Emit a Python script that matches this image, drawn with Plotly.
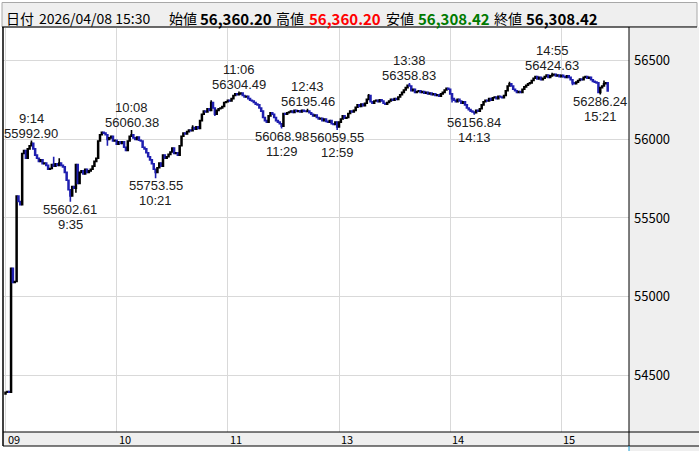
import plotly.graph_objects as go

# ---------------- data ----------------
first_open = 54380.0
closes = [
    54390, 54395, 54390, 55180, 55090, 55095, 55640, 55605, 55585, 55910,
    55930, 55880, 55940, 55960, 55975, 55940, 55900, 55880, 55860, 55870,
    55845, 55850, 55835, 55810, 55815, 55840, 55830, 55845, 55835, 55850,
    55835, 55825, 55790, 55740, 55680, 55640, 55700, 55690, 55840, 55720,
    55790, 55800, 55780, 55810, 55790, 55800, 55810, 55830, 55860, 55880,
    55990, 56030, 56045, 56040, 56030, 56000, 56010, 56020, 55990, 55995,
    55970, 55985, 55975, 55985, 55950, 55930, 55990, 56020, 56030, 56010,
    56000, 56015, 55995, 55990, 55950, 55940, 55915, 55890, 55870, 55845,
    55810, 55790, 55820, 55850, 55830, 55900, 55880, 55890, 55905, 55920,
    55945, 55910, 55915, 55900, 55960, 56020, 56040, 56035, 56050, 56060,
    56055, 56075, 56065, 56080, 56070, 56120, 56160, 56180, 56175, 56195,
    56185, 56235, 56200, 56160, 56185, 56195, 56200, 56210, 56235, 56240,
    56250, 56245, 56260, 56280, 56290, 56285, 56290, 56295, 56280, 56270,
    56275, 56260, 56250, 56245, 56235, 56225, 56220, 56200, 56180, 56140,
    56120, 56110, 56150, 56170, 56160, 56140, 56120, 56110, 56100, 56085,
    56165, 56160, 56170, 56175, 56180, 56172, 56185, 56178, 56182, 56175,
    56185, 56180, 56178, 56180, 56170, 56160, 56150, 56155, 56140, 56130,
    56135, 56120, 56130, 56115, 56110, 56120, 56100, 56095, 56110, 56080,
    56110, 56130, 56150, 56135, 56140, 56165, 56180, 56175, 56185, 56205,
    56220, 56210, 56225, 56215, 56230, 56255, 56280, 56240, 56230, 56245,
    56250, 56240, 56252, 56245, 56230, 56225, 56235, 56245, 56255, 56250,
    56260, 56255, 56270, 56285, 56300, 56315, 56330, 56345, 56340, 56310,
    56320, 56300, 56305, 56310, 56300, 56305, 56295, 56300, 56290, 56295,
    56285, 56290, 56280, 56285, 56275, 56290, 56300, 56315, 56325, 56320,
    56290, 56260, 56250, 56240, 56255, 56245, 56230, 56240, 56220, 56200,
    56190, 56180, 56175, 56170, 56185, 56180, 56195, 56220, 56240, 56250,
    56245, 56260, 56250, 56265, 56270, 56260, 56275, 56270, 56265, 56280,
    56310, 56340, 56355, 56340, 56320, 56310, 56300, 56305, 56300, 56320,
    56335, 56345, 56355, 56360, 56375, 56390, 56400, 56385, 56395, 56380,
    56390, 56400, 56410, 56395, 56405, 56410, 56415, 56405, 56410, 56400,
    56408, 56400, 56395, 56405, 56395, 56380, 56360, 56355, 56365, 56375,
    56385, 56380, 56395, 56400, 56390, 56395, 56380, 56370, 56365, 56360,
    56300, 56330, 56340, 56355, 56360.20, 56308.42,
]
# wick extremes (bar index -> price)
high_marks = {14: 55992.90, 26: 55890, 29: 55880, 68: 56060.38, 101: 56090, 111: 56250,
              126: 56304.49, 163: 56195.46, 196: 56290, 218: 56358.83, 272: 56368,
              295: 56424.63, 323: 56375}
low_marks = {35: 55602.61, 38: 55660, 55: 55960, 81: 55753.55, 113: 56150, 149: 56068.98,
             179: 56059.55, 241: 56235, 253: 56156.84, 306: 56345, 321: 56286.24}

peak_bar = [14, 68, 126, 163, 218, 295]
peak_time = ["9:14", "10:08", "11:06", "12:43", "13:38", "14:55"]
trough_bar = [35, 81, 149, 179, 253, 321]
trough_time = ["9:35", "10:21", "11:29", "12:59", "14:13", "15:21"]

hour_bar = [0, 60, 120, 180, 240, 300]
hour_labels = ["09", "10", "11", "13", "14", "15"]
header_stamp = "2026/04/08 15:30"

# ---------------- build OHLC ----------------
bars = list(range(len(closes)))
opens = [first_open] + closes[:-1]
highs = [max(o, c, high_marks.get(i, 0)) for i, (o, c) in enumerate(zip(opens, closes))]
lows = [min(o, c, low_marks.get(i, 1e9)) for i, (o, c) in enumerate(zip(opens, closes))]

W, H = 699, 451
L, R, T, B = 3, 629, 27, 432
def px(xp):
    return (xp - L) / (R - L)
def py(yp):
    return (B - yp) / (B - T)

FONT = "Noto Sans CJK JP"
LABEL_FONT = "Liberation Sans"
UP = "#000000"
DOWN = "#1f1fb0"
GRID = "#d9d9d9"
PANEL = "#efefef"

fig = go.Figure(go.Candlestick(
    x=bars, open=opens, high=highs, low=lows, close=closes,
    increasing=dict(line=dict(color=UP, width=1.6), fillcolor=UP),
    decreasing=dict(line=dict(color=DOWN, width=1.6), fillcolor=DOWN),
    whiskerwidth=0, hoverinfo="skip", showlegend=False,
))

shapes = [
    dict(type="rect", xref="paper", yref="paper", x0=px(2), x1=px(697), y0=py(2.5), y1=py(27),
         fillcolor=PANEL, line=dict(color="#a8a8a8", width=1), layer="below"),
    dict(type="rect", xref="paper", yref="paper", x0=px(629), x1=px(700), y0=py(27), y1=py(452),
         fillcolor=PANEL, line=dict(width=0), layer="below"),
    dict(type="rect", xref="paper", yref="paper", x0=px(3), x1=px(700), y0=py(432), y1=py(446),
         fillcolor=PANEL, line=dict(width=0), layer="below"),
    dict(type="line", xref="paper", yref="paper", x0=px(2), x1=px(697), y0=py(27), y1=py(27),
         line=dict(color="#000000", width=1)),
    dict(type="line", xref="paper", yref="paper", x0=px(3), x1=px(700), y0=py(432), y1=py(432),
         line=dict(color="#000000", width=1)),
    dict(type="line", xref="paper", yref="paper", x0=px(3), x1=px(700), y0=py(446), y1=py(446),
         line=dict(color="#000000", width=1)),
    dict(type="line", xref="paper", yref="paper", x0=px(3), x1=px(3), y0=py(27), y1=py(446),
         line=dict(color="#000000", width=1.5)),
    dict(type="line", xref="paper", yref="paper", x0=px(629), x1=px(629), y0=py(27), y1=py(446),
         line=dict(color="#000000", width=1)),
    dict(type="line", xref="paper", yref="paper", x0=px(629), x1=px(629), y0=py(446), y1=py(452),
         line=dict(color="#1aa0d8", width=1)),
]

ann = []
o_last, h_last, l_last, c_last = opens[-1], highs[-1], lows[-1], closes[-1]
header_items = [
    (5, "日付", 14, False, "#000000"),
    (38, header_stamp, 14, False, "#000000"),
    (168, "始値", 14, False, "#000000"),
    (199, f"{o_last:,.2f}", 15, True, "#000000"),
    (275, "高値", 14, False, "#000000"),
    (308, f"{h_last:,.2f}", 15, True, "#ff0000"),
    (385, "安値", 14, False, "#000000"),
    (417, f"{l_last:,.2f}", 15, True, "#007a00"),
    (493, "終値", 14, False, "#000000"),
    (525, f"{c_last:,.2f}", 15, True, "#000000"),
]
for xp, txt, sz, bold, col in header_items:
    ann.append(dict(xref="paper", yref="paper", x=px(xp), y=py(18), xanchor="left", yanchor="middle",
                    text=f"<b>{txt}</b>" if bold else txt, showarrow=False,
                    font=dict(family=FONT, size=sz, color=col), borderpad=0))

for b, lab in zip(hour_bar, hour_labels):
    ann.append(dict(xref="x", yref="paper", x=b, y=py(439), xanchor="left", yanchor="middle",
                    xshift=1, text=lab, showarrow=False, borderpad=0,
                    font=dict(family=FONT, size=11, color="#000000")))

lab_font = dict(family=LABEL_FONT, size=13, color="#202020")
for b, t in zip(peak_bar, peak_time):
    v = highs[b]
    ann.append(dict(x=b, y=v, xanchor="center", yanchor="bottom", yshift=0, text=f"{v:.2f}",
                    showarrow=False, borderpad=0, borderwidth=0, font=lab_font))
    ann.append(dict(x=b, y=v, xanchor="center", yanchor="bottom", yshift=15, text=t,
                    showarrow=False, borderpad=0, borderwidth=0, font=lab_font))
for b, t in zip(trough_bar, trough_time):
    v = lows[b]
    ann.append(dict(x=b, y=v, xanchor="center", yanchor="top", yshift=0, text=f"{v:.2f}",
                    showarrow=False, borderpad=0, borderwidth=0, font=lab_font))
    ann.append(dict(x=b, y=v, xanchor="center", yanchor="top", yshift=-15, text=t,
                    showarrow=False, borderpad=0, borderwidth=0, font=lab_font))

fig.update_layout(
    width=W, height=H, autosize=False,
    margin=dict(l=L, r=W - R, t=T, b=H - B, pad=0),
    paper_bgcolor="#ffffff", plot_bgcolor="#ffffff",
    shapes=shapes, annotations=ann, showlegend=False,
    font=dict(family=FONT, size=13, color="#000000"),
    xaxis=dict(range=[-1.35, 336.5], tickmode="array", tickvals=hour_bar, showticklabels=False,
               showgrid=True, gridcolor=GRID, gridwidth=1, zeroline=False, ticks="",
               rangeslider=dict(visible=False), fixedrange=True),
    yaxis=dict(range=[54137, 56716], side="right", tick0=0, dtick=500, tickformat="d",
               showgrid=True, gridcolor=GRID, gridwidth=1, zeroline=False, ticks="",
               ticklabelstandoff=4, tickfont=dict(family=FONT, size=13, color="#000000"),
               fixedrange=True),
)

fig.write_html("out.html", config={"displayModeBar": False, "staticPlot": True},
               post_script="document.body.style.margin='0px';document.body.style.padding='0px';")
